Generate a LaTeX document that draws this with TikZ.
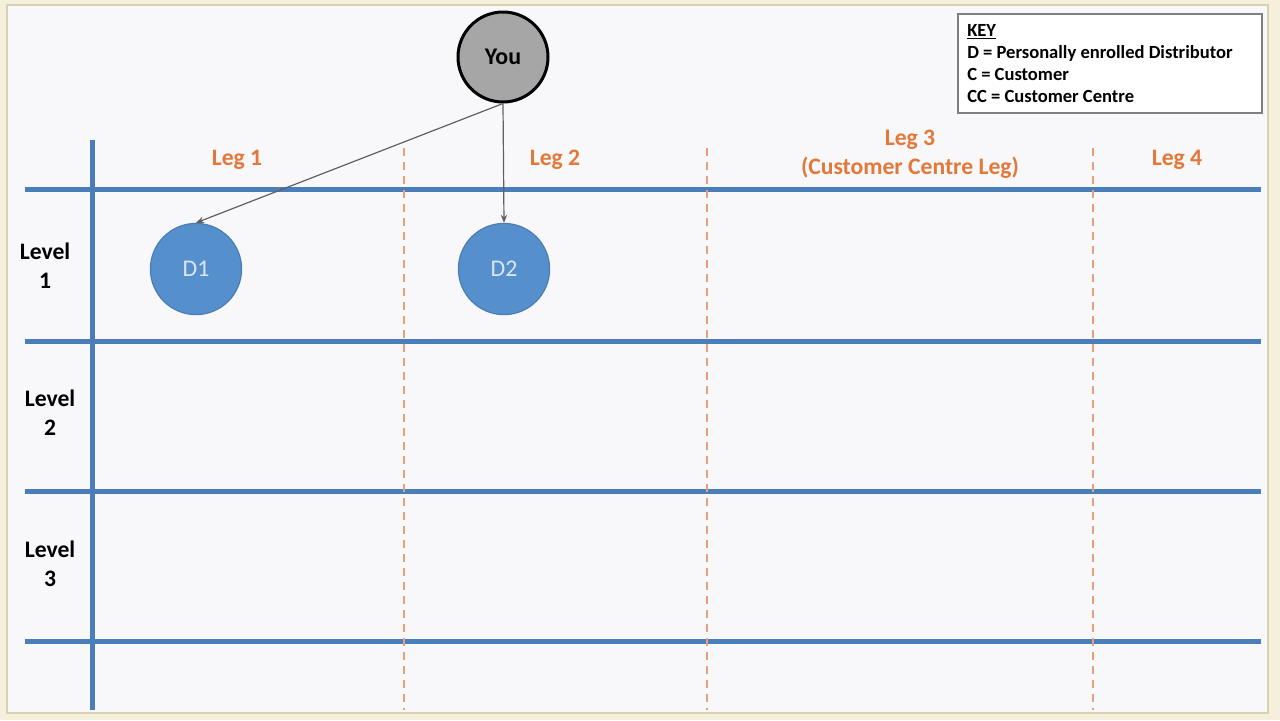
\documentclass[tikz,border=0pt]{standalone}
\usepackage{fontspec}
\setmainfont{Carlito}
\usetikzlibrary{arrows.meta}
\definecolor{gridblue}{HTML}{4A7EBB}
\definecolor{legorange}{HTML}{E2783A}
\definecolor{dashorange}{HTML}{E9A07A}
\definecolor{distblue}{HTML}{5590CC}
\definecolor{distedge}{HTML}{4A7DB5}
\definecolor{distlbl}{HTML}{DCE6F2}
\definecolor{yougray}{HTML}{A6A6A6}
\definecolor{linkgray}{HTML}{606060}
\definecolor{pagecream}{HTML}{F4F0DC}
\definecolor{framebeige}{HTML}{D8D2B0}
\definecolor{paperwhite}{HTML}{F8F8FA}

\begin{document}
\begin{tikzpicture}[
    x=0.25mm, y=-0.25mm,
    hline/.style={gridblue, line width=1.25mm},
    legsep/.style={dashorange, line width=0.6mm, dash pattern=on 2mm off 1.5mm},
    leglbl/.style={text=legorange, font=\bfseries\fontsize{16.8}{20.5}\selectfont, align=center},
    lvl/.style={font=\bfseries\fontsize{16.8}{20.5}\selectfont, align=center},
    dist/.style={circle, draw=distedge, line width=0.3mm, fill=distblue, text=distlbl,
                 minimum size=22.8mm, inner sep=0pt, font=\fontsize{17}{19}\selectfont},
    link/.style={linkgray, line width=0.3mm, -{Stealth[length=2mm, width=1.6mm]}},
  ]
  % ---- page and frame ----
  \fill[pagecream] (0,0) rectangle (1280,720);
  \draw[framebeige, line width=0.6mm, fill=paperwhite] (7,5) rectangle (1268,713);
  \useasboundingbox (0,0) rectangle (1280,720);

  % ---- grid ----
  \foreach \y in {189, 341, 491, 641}
    \draw[hline] (25,\y) -- (1261,\y);
  \draw[hline] (92,140) -- (92,710);
  \foreach \x in {404, 707, 1093}
    \draw[legsep] (\x,148) -- (\x,710);

  % ---- leg headings ----
  \node[leglbl] (leg1) at (237,160) {Leg 1};
  \node[leglbl] (leg2) at (555,160) {Leg 2};
  \node[leglbl] (leg3) at (910,154) {Leg 3\\(Customer Centre Leg)};
  \node[leglbl] (leg4) at (1177,160) {Leg 4};

  % ---- level labels ----
  \node[lvl] (lvl1) at (45,266) {Level\\1};
  \node[lvl] (lvl2) at (50,413) {Level\\2};
  \node[lvl] (lvl3) at (50,564) {Level\\3};

  % ---- you and distributors ----
  \node[circle, draw=black, line width=0.75mm, fill=yougray, minimum size=22.5mm,
        inner sep=0pt, font=\bfseries\fontsize{17}{19}\selectfont] (you) at (503,57) {You};
  \node[dist] (d1) at (196,269) {D1};
  \node[dist] (d2) at (504,269) {D2};
  \draw[link] (you.south) -- (d1.north);
  \draw[link] (you.south) -- (d2.north);

  % ---- key ----
  \node[draw=gray, line width=0.4mm, fill=white, anchor=north west,
        minimum width=76mm, minimum height=24.75mm, inner sep=0pt] (key) at (957,13) {};
  \node[anchor=north west, align=left, inner sep=0pt,
        font=\bfseries\fontsize{13.2}{15.6}\selectfont] (keytxt)
    at ([shift={(10,11)}]key.north west)
    {\underline{KEY}\\D = Personally enrolled Distributor\\C = Customer\\CC = Customer Centre};
\end{tikzpicture}
\end{document}
